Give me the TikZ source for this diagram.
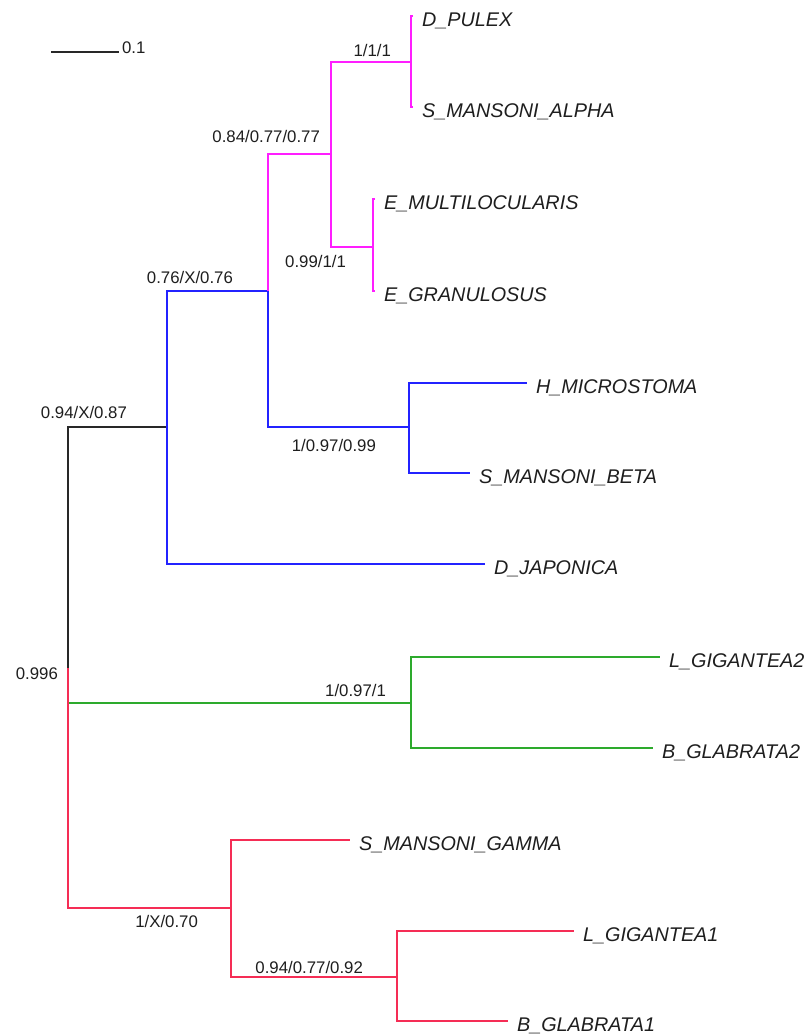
\documentclass[tikz,border=0pt]{standalone}
\usepackage{fontspec}
\setmainfont{Liberation Sans}
\usetikzlibrary{positioning}
\definecolor{cladepink}{RGB}{255,30,255}
\definecolor{cladeblue}{RGB}{35,35,255}
\definecolor{cladegreen}{RGB}{45,170,45}
\definecolor{cladered}{RGB}{245,45,85}
\definecolor{stemgray}{RGB}{40,40,40}
\definecolor{txtgray}{RGB}{30,30,30}
\begin{document}
\begin{tikzpicture}
[x=1pt, y=-1pt, line width=2.2pt]
\tikzstyle{taxon}=[anchor=base west, inner sep=0pt, xshift=8pt, yshift=-10pt, text=txtgray, font=\fontsize{19.8}{22}\selectfont\itshape]
\tikzstyle{support}=[anchor=base east, inner sep=0pt, text=txtgray, font=\fontsize{16.8}{19}\selectfont]
\tikzstyle{pinkbr}=[draw=cladepink]
\tikzstyle{bluebr}=[draw=cladeblue]
\tikzstyle{greenbr}=[draw=cladegreen]
\tikzstyle{redbr}=[draw=cladered]
\tikzstyle{stembr}=[draw=stemgray]
\useasboundingbox (0,0) rectangle (810,1036);

\coordinate (sbl)	at (51,52);
\coordinate (sbr)	at (119,52);
\draw[stembr]	(sbl) -- (sbr);
\node[support, anchor=base west]	(lsb)	at ([shift={(2,1)}]sbr)	{0.1};

\coordinate (root)	at (68,668);
\coordinate (n94)	at (167,427);
\coordinate (n76)	at (268,291);
\coordinate (n84)	at (331,154);
\coordinate (n111)	at (411,62);
\coordinate (n99p)	at (373,247);
\coordinate (n99b)	at (409,427);
\coordinate (n97g)	at (411,703);
\coordinate (n70)	at (231,908);
\coordinate (n92)	at (397,977);

\coordinate (DPULEX)	at (413,16);
\coordinate (SMALPHA)	at (413,107);
\coordinate (EMULT)	at (375,199);
\coordinate (EGRAN)	at (375,291);
\coordinate (HMICRO)	at (527,383);
\coordinate (SMBETA)	at (470,473);
\coordinate (DJAP)	at (485,564);
\coordinate (LGIG2)	at (660,657);
\coordinate (BGLAB2)	at (653,748);
\coordinate (SMGAMMA)	at (350,840);
\coordinate (LGIG1)	at (574,931);
\coordinate (BGLAB1)	at (508,1021);

\draw[stembr]	(root) |- (n94);
\draw[bluebr]	(n94) |- (n76);
\draw[bluebr]	(n94) |- (DJAP);
\draw[pinkbr]	(n76) |- (n84);
\draw[bluebr]	(n76) |- (n99b);
\draw[pinkbr]	(n84) |- (n111);
\draw[pinkbr]	(n84) |- (n99p);
\draw[pinkbr]	(n111) |- (DPULEX);
\draw[pinkbr]	(n111) |- (SMALPHA);
\draw[pinkbr]	(n99p) |- (EMULT);
\draw[pinkbr]	(n99p) |- (EGRAN);
\draw[bluebr]	(n99b) |- (HMICRO);
\draw[bluebr]	(n99b) |- (SMBETA);
\draw[greenbr]	(root |- n97g) -- (n97g);
\draw[greenbr]	(n97g) |- (LGIG2);
\draw[greenbr]	(n97g) |- (BGLAB2);
\draw[redbr]	(root) |- (n70);
\draw[redbr]	(n70) |- (SMGAMMA);
\draw[redbr]	(n70) |- (n92);
\draw[redbr]	(n92) |- (LGIG1);
\draw[redbr]	(n92) |- (BGLAB1);

\node[support]	(lroot)	at ([shift={(-9,11)}]root)	{0.996};
\node[support]	(l94)	at ([shift={(-39,-9)}]n94)	{0.94/X/0.87};
\node[support]	(l76)	at ([shift={(-34,-8)}]n76)	{0.76/X/0.76};
\node[support]	(l84)	at ([shift={(-10,-12)}]n84)	{0.84/0.77/0.77};
\node[support]	(l111)	at ([shift={(-19,-6)}]n111)	{1/1/1};
\node[support]	(l99p)	at ([shift={(-26,20)}]n99p)	{0.99/1/1};
\node[support]	(l99b)	at ([shift={(-32,24)}]n99b)	{1/0.97/0.99};
\node[support]	(l97g)	at ([shift={(-24,-7)}]n97g)	{1/0.97/1};
\node[support]	(l70)	at ([shift={(-32,19)}]n70)	{1/X/0.70};
\node[support]	(l92)	at ([shift={(-33,-4)}]n92)	{0.94/0.77/0.92};

\node[taxon]	(tDPULEX)	at (DPULEX)	{D\_PULEX};
\node[taxon]	(tSMALPHA)	at (SMALPHA)	{S\_MANSONI\_ALPHA};
\node[taxon]	(tEMULT)	at (EMULT)	{E\_MULTILOCULARIS};
\node[taxon]	(tEGRAN)	at (EGRAN)	{E\_GRANULOSUS};
\node[taxon]	(tHMICRO)	at (HMICRO)	{H\_MICROSTOMA};
\node[taxon]	(tSMBETA)	at (SMBETA)	{S\_MANSONI\_BETA};
\node[taxon]	(tDJAP)	at (DJAP)	{D\_JAPONICA};
\node[taxon]	(tLGIG2)	at (LGIG2)	{L\_GIGANTEA2};
\node[taxon]	(tBGLAB2)	at (BGLAB2)	{B\_GLABRATA2};
\node[taxon]	(tSMGAMMA)	at (SMGAMMA)	{S\_MANSONI\_GAMMA};
\node[taxon]	(tLGIG1)	at (LGIG1)	{L\_GIGANTEA1};
\node[taxon]	(tBGLAB1)	at (BGLAB1)	{B\_GLABRATA1};
\end{tikzpicture}
\end{document}
